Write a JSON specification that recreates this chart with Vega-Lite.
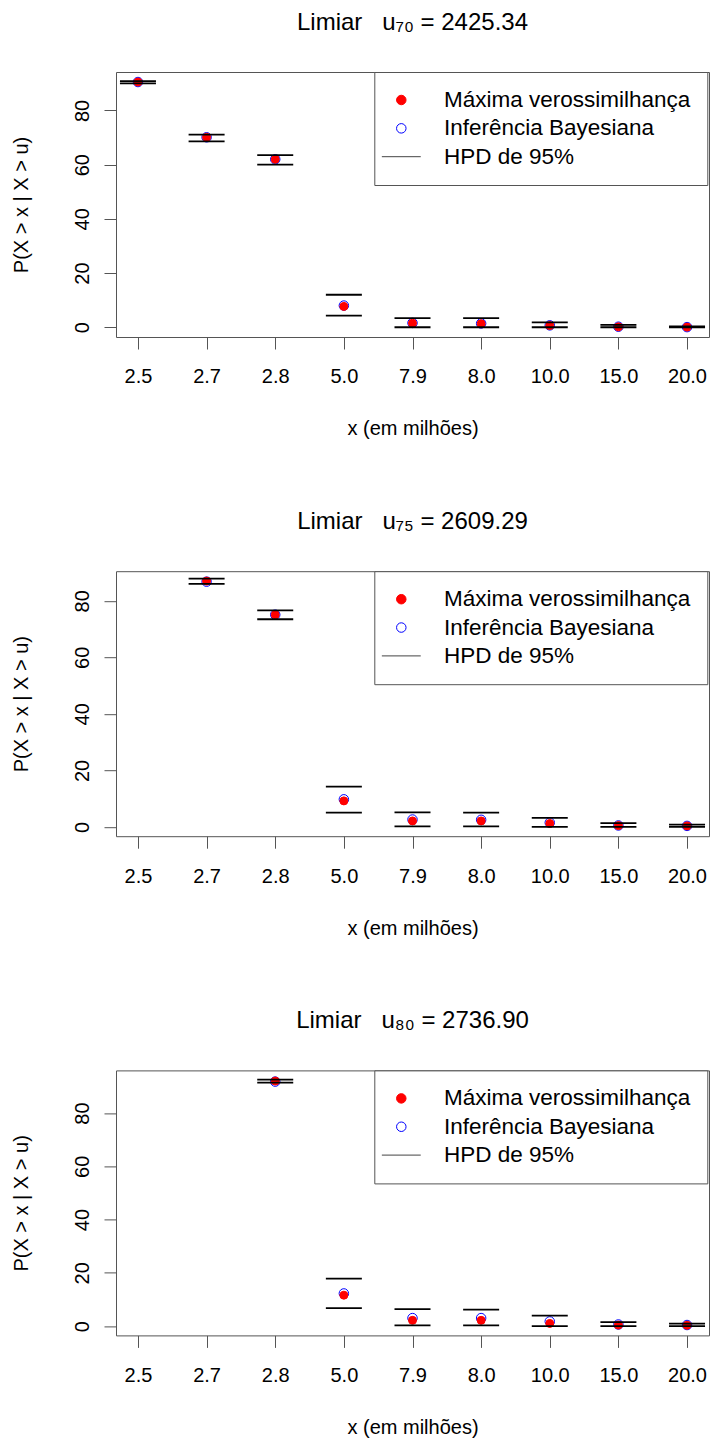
{
  "$schema": "https://vega.github.io/schema/vega-lite/v6.json",
  "background": "white",
  "padding": {"left": 10, "top": 10, "right": 0, "bottom": 0},
  "bounds": "flush",
  "spacing": 234.2,
  "config": {
    "font": "Liberation Sans",
    "view": {"stroke": "#555", "strokeWidth": 1},
    "axis": {
      "labelFont": "Liberation Sans", "labelFontSize": 20, "labelColor": "black",
      "titleFont": "Liberation Sans", "titleFontSize": 20, "titleFontWeight": "normal", "titleColor": "black",
      "tickColor": "#555", "tickSize": 12, "tickWidth": 1, "domain": false, "grid": false
    },
    "title": {"font": "Liberation Sans", "fontSize": 24, "fontWeight": "normal", "color": "black", "baseline": "alphabetic", "offset": 37, "anchor": "middle"},
    "legend": {"labelFont": "Liberation Sans"}
  },
  "datasets": {
    "d": [
      {"p": 1, "x": "2.5", "s": "Inferência Bayesiana", "v": 90.5},
      {"p": 1, "x": "2.7", "s": "Inferência Bayesiana", "v": 70.1},
      {"p": 1, "x": "2.8", "s": "Inferência Bayesiana", "v": 62.0},
      {"p": 1, "x": "5.0", "s": "Inferência Bayesiana", "v": 8.0},
      {"p": 1, "x": "7.9", "s": "Inferência Bayesiana", "v": 1.6},
      {"p": 1, "x": "8.0", "s": "Inferência Bayesiana", "v": 1.4},
      {"p": 1, "x": "10.0", "s": "Inferência Bayesiana", "v": 0.7},
      {"p": 1, "x": "15.0", "s": "Inferência Bayesiana", "v": 0.2},
      {"p": 1, "x": "20.0", "s": "Inferência Bayesiana", "v": 0.05},
      {"p": 1, "x": "2.5", "s": "Máxima verossimilhança", "v": 90.5},
      {"p": 1, "x": "2.7", "s": "Máxima verossimilhança", "v": 70.1},
      {"p": 1, "x": "2.8", "s": "Máxima verossimilhança", "v": 62.0},
      {"p": 1, "x": "5.0", "s": "Máxima verossimilhança", "v": 7.7},
      {"p": 1, "x": "7.9", "s": "Máxima verossimilhança", "v": 1.5},
      {"p": 1, "x": "8.0", "s": "Máxima verossimilhança", "v": 1.3},
      {"p": 1, "x": "10.0", "s": "Máxima verossimilhança", "v": 0.6},
      {"p": 1, "x": "15.0", "s": "Máxima verossimilhança", "v": 0.15},
      {"p": 1, "x": "20.0", "s": "Máxima verossimilhança", "v": 0.05},
      {"p": 1, "x": "2.5", "s": "HPD de 95%", "v": 90.0},
      {"p": 1, "x": "2.5", "s": "HPD de 95%", "v": 90.8},
      {"p": 1, "x": "2.7", "s": "HPD de 95%", "v": 68.6},
      {"p": 1, "x": "2.7", "s": "HPD de 95%", "v": 71.1},
      {"p": 1, "x": "2.8", "s": "HPD de 95%", "v": 60.0},
      {"p": 1, "x": "2.8", "s": "HPD de 95%", "v": 63.5},
      {"p": 1, "x": "5.0", "s": "HPD de 95%", "v": 4.3},
      {"p": 1, "x": "5.0", "s": "HPD de 95%", "v": 12.0},
      {"p": 1, "x": "7.9", "s": "HPD de 95%", "v": 0.0},
      {"p": 1, "x": "7.9", "s": "HPD de 95%", "v": 3.4},
      {"p": 1, "x": "8.0", "s": "HPD de 95%", "v": 0.0},
      {"p": 1, "x": "8.0", "s": "HPD de 95%", "v": 3.4},
      {"p": 1, "x": "10.0", "s": "HPD de 95%", "v": 0.0},
      {"p": 1, "x": "10.0", "s": "HPD de 95%", "v": 1.8},
      {"p": 1, "x": "15.0", "s": "HPD de 95%", "v": 0.0},
      {"p": 1, "x": "15.0", "s": "HPD de 95%", "v": 0.85},
      {"p": 1, "x": "20.0", "s": "HPD de 95%", "v": 0.0},
      {"p": 1, "x": "20.0", "s": "HPD de 95%", "v": 0.3},

      {"p": 2, "x": "2.7", "s": "Inferência Bayesiana", "v": 86.8},
      {"p": 2, "x": "2.8", "s": "Inferência Bayesiana", "v": 75.1},
      {"p": 2, "x": "5.0", "s": "Inferência Bayesiana", "v": 9.75},
      {"p": 2, "x": "7.9", "s": "Inferência Bayesiana", "v": 2.6},
      {"p": 2, "x": "8.0", "s": "Inferência Bayesiana", "v": 2.5},
      {"p": 2, "x": "10.0", "s": "Inferência Bayesiana", "v": 1.5},
      {"p": 2, "x": "15.0", "s": "Inferência Bayesiana", "v": 0.5},
      {"p": 2, "x": "20.0", "s": "Inferência Bayesiana", "v": 0.35},
      {"p": 2, "x": "2.7", "s": "Máxima verossimilhança", "v": 87.0},
      {"p": 2, "x": "2.8", "s": "Máxima verossimilhança", "v": 75.1},
      {"p": 2, "x": "5.0", "s": "Máxima verossimilhança", "v": 9.2},
      {"p": 2, "x": "7.9", "s": "Máxima verossimilhança", "v": 2.1},
      {"p": 2, "x": "8.0", "s": "Máxima verossimilhança", "v": 2.1},
      {"p": 2, "x": "10.0", "s": "Máxima verossimilhança", "v": 1.2},
      {"p": 2, "x": "15.0", "s": "Máxima verossimilhança", "v": 0.45},
      {"p": 2, "x": "20.0", "s": "Máxima verossimilhança", "v": 0.35},
      {"p": 2, "x": "2.7", "s": "HPD de 95%", "v": 86.0},
      {"p": 2, "x": "2.7", "s": "HPD de 95%", "v": 87.9},
      {"p": 2, "x": "2.8", "s": "HPD de 95%", "v": 73.5},
      {"p": 2, "x": "2.8", "s": "HPD de 95%", "v": 76.6},
      {"p": 2, "x": "5.0", "s": "HPD de 95%", "v": 5.05},
      {"p": 2, "x": "5.0", "s": "HPD de 95%", "v": 14.25},
      {"p": 2, "x": "7.9", "s": "HPD de 95%", "v": 0.2},
      {"p": 2, "x": "7.9", "s": "HPD de 95%", "v": 5.15},
      {"p": 2, "x": "8.0", "s": "HPD de 95%", "v": 0.2},
      {"p": 2, "x": "8.0", "s": "HPD de 95%", "v": 5.05},
      {"p": 2, "x": "10.0", "s": "HPD de 95%", "v": 0.0},
      {"p": 2, "x": "10.0", "s": "HPD de 95%", "v": 3.2},
      {"p": 2, "x": "15.0", "s": "HPD de 95%", "v": 0.0},
      {"p": 2, "x": "15.0", "s": "HPD de 95%", "v": 1.3},
      {"p": 2, "x": "20.0", "s": "HPD de 95%", "v": 0.0},
      {"p": 2, "x": "20.0", "s": "HPD de 95%", "v": 0.8},

      {"p": 3, "x": "2.8", "s": "Inferência Bayesiana", "v": 91.8},
      {"p": 3, "x": "5.0", "s": "Inferência Bayesiana", "v": 12.25},
      {"p": 3, "x": "7.9", "s": "Inferência Bayesiana", "v": 3.0},
      {"p": 3, "x": "8.0", "s": "Inferência Bayesiana", "v": 3.0},
      {"p": 3, "x": "10.0", "s": "Inferência Bayesiana", "v": 1.75},
      {"p": 3, "x": "15.0", "s": "Inferência Bayesiana", "v": 0.6},
      {"p": 3, "x": "20.0", "s": "Inferência Bayesiana", "v": 0.4},
      {"p": 3, "x": "2.8", "s": "Máxima verossimilhança", "v": 92.0},
      {"p": 3, "x": "5.0", "s": "Máxima verossimilhança", "v": 11.6},
      {"p": 3, "x": "7.9", "s": "Máxima verossimilhança", "v": 2.15},
      {"p": 3, "x": "8.0", "s": "Máxima verossimilhança", "v": 2.15},
      {"p": 3, "x": "10.0", "s": "Máxima verossimilhança", "v": 1.0},
      {"p": 3, "x": "15.0", "s": "Máxima verossimilhança", "v": 0.37},
      {"p": 3, "x": "20.0", "s": "Máxima verossimilhança", "v": 0.3},
      {"p": 3, "x": "2.8", "s": "HPD de 95%", "v": 91.4},
      {"p": 3, "x": "2.8", "s": "HPD de 95%", "v": 92.5},
      {"p": 3, "x": "5.0", "s": "HPD de 95%", "v": 6.75},
      {"p": 3, "x": "5.0", "s": "HPD de 95%", "v": 17.8},
      {"p": 3, "x": "7.9", "s": "HPD de 95%", "v": 0.25},
      {"p": 3, "x": "7.9", "s": "HPD de 95%", "v": 6.4},
      {"p": 3, "x": "8.0", "s": "HPD de 95%", "v": 0.25},
      {"p": 3, "x": "8.0", "s": "HPD de 95%", "v": 6.15},
      {"p": 3, "x": "10.0", "s": "HPD de 95%", "v": 0.0},
      {"p": 3, "x": "10.0", "s": "HPD de 95%", "v": 3.9},
      {"p": 3, "x": "15.0", "s": "HPD de 95%", "v": 0.0},
      {"p": 3, "x": "15.0", "s": "HPD de 95%", "v": 1.5},
      {"p": 3, "x": "20.0", "s": "HPD de 95%", "v": 0.0},
      {"p": 3, "x": "20.0", "s": "HPD de 95%", "v": 0.9}
    ]
  },
  "resolve": {
    "scale": {"y": "independent", "fill": "independent", "stroke": "independent", "shape": "independent"},
    "legend": {"fill": "independent", "stroke": "independent", "shape": "independent"}
  },
  "vconcat": [
    {
      "title": {"text": "Limiar\u00a0\u00a0\u00a0u₇₀ = 2425.34"},
      "width": 593, "height": 265,
      "data": {"name": "d"},
      "transform": [{"filter": "datum.p == 1"}],
      "encoding": {
        "x": {"field": "x", "type": "ordinal", "scale": {"type": "point", "domain": ["2.5","2.7","2.8","5.0","7.9","8.0","10.0","15.0","20.0"], "padding": 0.32},
              "axis": {"title": "x (em milhões)", "labelAngle": 0, "labelPadding": 17.8, "titlePadding": 32}},
        "y": {"field": "v", "type": "quantitative", "scale": {"domain": [-3.6, 94.2], "nice": false, "zero": false},
              "axis": {"title": "P(X > x | X > u)", "values": [0,20,40,60,80], "labelAngle": -90, "labelAlign": "center", "labelBaseline": "alphabetic", "labelPadding": 16, "titlePadding": 45, "titleBaseline": "alphabetic"}}
      },
      "layer": [
        {"transform": [{"filter": "datum.s == 'Inferência Bayesiana'"}],
         "mark": {"type": "point", "size": 90, "strokeWidth": 1, "opacity": 1},
         "encoding": {
           "fill": {"field": "s", "type": "nominal", "scale": {"domain": ["Máxima verossimilhança","Inferência Bayesiana","HPD de 95%"], "range": ["red","transparent","transparent"]},
                    "legend": {"title": null, "orient": "none", "legendX": 258.3, "legendY": 0, "direction": "vertical", "padding": 16.75, "strokeColor": "#555", "fillColor": "white", "labelFontSize": 22.5, "labelColor": "black", "labelOffset": 31.45, "symbolOffset": -1, "rowPadding": 5.35, "symbolSize": 90, "symbolStrokeWidth": 1, "labelLimit": 500}},
           "stroke": {"field": "s", "type": "nominal", "scale": {"domain": ["Máxima verossimilhança","Inferência Bayesiana","HPD de 95%"], "range": ["red","blue","#444"]},
                    "legend": {"title": null, "orient": "none", "legendX": 258.3, "legendY": 0, "direction": "vertical", "padding": 16.75, "strokeColor": "#555", "fillColor": "white", "labelFontSize": 22.5, "labelColor": "black", "labelOffset": 31.45, "symbolOffset": -1, "rowPadding": 5.35, "symbolSize": 90, "symbolStrokeWidth": 1, "labelLimit": 500}},
           "shape": {"field": "s", "type": "nominal", "scale": {"domain": ["Máxima verossimilhança","Inferência Bayesiana","HPD de 95%"], "range": ["circle","circle","M-4.1,0H4.1"]},
                    "legend": {"title": null, "orient": "none", "legendX": 258.3, "legendY": 0, "direction": "vertical", "padding": 16.75, "strokeColor": "#555", "fillColor": "white", "labelFontSize": 22.5, "labelColor": "black", "labelOffset": 31.45, "symbolOffset": -1, "rowPadding": 5.35, "symbolSize": 90, "symbolStrokeWidth": 1, "labelLimit": 500}}
         }},
        {"transform": [{"filter": "datum.s == 'Máxima verossimilhança'"}],
         "mark": {"type": "point", "size": 64, "strokeWidth": 1, "opacity": 1},
         "encoding": {
           "fill": {"field": "s", "type": "nominal"},
           "stroke": {"field": "s", "type": "nominal"},
           "shape": {"field": "s", "type": "nominal"}
         }},
        {"transform": [{"filter": "datum.s == 'HPD de 95%'"}],
         "mark": {"type": "tick", "orient": "horizontal", "size": 36, "thickness": 1.8, "color": "black", "opacity": 1},
         "encoding": {}}
      ]
    },
    {
      "title": {"text": "Limiar\u00a0\u00a0\u00a0u₇₅ = 2609.29"},
      "width": 593, "height": 265,
      "data": {"name": "d"},
      "transform": [{"filter": "datum.p == 2"}],
      "encoding": {
        "x": {"field": "x", "type": "ordinal", "scale": {"type": "point", "domain": ["2.5","2.7","2.8","5.0","7.9","8.0","10.0","15.0","20.0"], "padding": 0.32},
              "axis": {"title": "x (em milhões)", "labelAngle": 0, "labelPadding": 17.8, "titlePadding": 32}},
        "y": {"field": "v", "type": "quantitative", "scale": {"domain": [-3.3, 90.5], "nice": false, "zero": false},
              "axis": {"title": "P(X > x | X > u)", "values": [0,20,40,60,80], "labelAngle": -90, "labelAlign": "center", "labelBaseline": "alphabetic", "labelPadding": 16, "titlePadding": 45, "titleBaseline": "alphabetic"}}
      },
      "layer": [
        {"transform": [{"filter": "datum.s == 'Inferência Bayesiana'"}],
         "mark": {"type": "point", "size": 90, "strokeWidth": 1, "opacity": 1},
         "encoding": {
           "fill": {"field": "s", "type": "nominal", "scale": {"domain": ["Máxima verossimilhança","Inferência Bayesiana","HPD de 95%"], "range": ["red","transparent","transparent"]},
                    "legend": {"title": null, "orient": "none", "legendX": 258.3, "legendY": 0, "direction": "vertical", "padding": 16.75, "strokeColor": "#555", "fillColor": "white", "labelFontSize": 22.5, "labelColor": "black", "labelOffset": 31.45, "symbolOffset": -1, "rowPadding": 5.35, "symbolSize": 90, "symbolStrokeWidth": 1, "labelLimit": 500}},
           "stroke": {"field": "s", "type": "nominal", "scale": {"domain": ["Máxima verossimilhança","Inferência Bayesiana","HPD de 95%"], "range": ["red","blue","#444"]},
                    "legend": {"title": null, "orient": "none", "legendX": 258.3, "legendY": 0, "direction": "vertical", "padding": 16.75, "strokeColor": "#555", "fillColor": "white", "labelFontSize": 22.5, "labelColor": "black", "labelOffset": 31.45, "symbolOffset": -1, "rowPadding": 5.35, "symbolSize": 90, "symbolStrokeWidth": 1, "labelLimit": 500}},
           "shape": {"field": "s", "type": "nominal", "scale": {"domain": ["Máxima verossimilhança","Inferência Bayesiana","HPD de 95%"], "range": ["circle","circle","M-4.1,0H4.1"]},
                    "legend": {"title": null, "orient": "none", "legendX": 258.3, "legendY": 0, "direction": "vertical", "padding": 16.75, "strokeColor": "#555", "fillColor": "white", "labelFontSize": 22.5, "labelColor": "black", "labelOffset": 31.45, "symbolOffset": -1, "rowPadding": 5.35, "symbolSize": 90, "symbolStrokeWidth": 1, "labelLimit": 500}}
         }},
        {"transform": [{"filter": "datum.s == 'Máxima verossimilhança'"}],
         "mark": {"type": "point", "size": 64, "strokeWidth": 1, "opacity": 1},
         "encoding": {
           "fill": {"field": "s", "type": "nominal"},
           "stroke": {"field": "s", "type": "nominal"},
           "shape": {"field": "s", "type": "nominal"}
         }},
        {"transform": [{"filter": "datum.s == 'HPD de 95%'"}],
         "mark": {"type": "tick", "orient": "horizontal", "size": 36, "thickness": 1.8, "color": "black", "opacity": 1},
         "encoding": {}}
      ]
    },
    {
      "title": {"text": "Limiar\u00a0\u00a0\u00a0u₈₀ = 2736.90"},
      "width": 593, "height": 265,
      "data": {"name": "d"},
      "transform": [{"filter": "datum.p == 3"}],
      "encoding": {
        "x": {"field": "x", "type": "ordinal", "scale": {"type": "point", "domain": ["2.5","2.7","2.8","5.0","7.9","8.0","10.0","15.0","20.0"], "padding": 0.32},
              "axis": {"title": "x (em milhões)", "labelAngle": 0, "labelPadding": 17.8, "titlePadding": 32}},
        "y": {"field": "v", "type": "quantitative", "scale": {"domain": [-3.5, 96.0], "nice": false, "zero": false},
              "axis": {"title": "P(X > x | X > u)", "values": [0,20,40,60,80], "labelAngle": -90, "labelAlign": "center", "labelBaseline": "alphabetic", "labelPadding": 16, "titlePadding": 45, "titleBaseline": "alphabetic"}}
      },
      "layer": [
        {"transform": [{"filter": "datum.s == 'Inferência Bayesiana'"}],
         "mark": {"type": "point", "size": 90, "strokeWidth": 1, "opacity": 1},
         "encoding": {
           "fill": {"field": "s", "type": "nominal", "scale": {"domain": ["Máxima verossimilhança","Inferência Bayesiana","HPD de 95%"], "range": ["red","transparent","transparent"]},
                    "legend": {"title": null, "orient": "none", "legendX": 258.3, "legendY": 0, "direction": "vertical", "padding": 16.75, "strokeColor": "#555", "fillColor": "white", "labelFontSize": 22.5, "labelColor": "black", "labelOffset": 31.45, "symbolOffset": -1, "rowPadding": 5.35, "symbolSize": 90, "symbolStrokeWidth": 1, "labelLimit": 500}},
           "stroke": {"field": "s", "type": "nominal", "scale": {"domain": ["Máxima verossimilhança","Inferência Bayesiana","HPD de 95%"], "range": ["red","blue","#444"]},
                    "legend": {"title": null, "orient": "none", "legendX": 258.3, "legendY": 0, "direction": "vertical", "padding": 16.75, "strokeColor": "#555", "fillColor": "white", "labelFontSize": 22.5, "labelColor": "black", "labelOffset": 31.45, "symbolOffset": -1, "rowPadding": 5.35, "symbolSize": 90, "symbolStrokeWidth": 1, "labelLimit": 500}},
           "shape": {"field": "s", "type": "nominal", "scale": {"domain": ["Máxima verossimilhança","Inferência Bayesiana","HPD de 95%"], "range": ["circle","circle","M-4.1,0H4.1"]},
                    "legend": {"title": null, "orient": "none", "legendX": 258.3, "legendY": 0, "direction": "vertical", "padding": 16.75, "strokeColor": "#555", "fillColor": "white", "labelFontSize": 22.5, "labelColor": "black", "labelOffset": 31.45, "symbolOffset": -1, "rowPadding": 5.35, "symbolSize": 90, "symbolStrokeWidth": 1, "labelLimit": 500}}
         }},
        {"transform": [{"filter": "datum.s == 'Máxima verossimilhança'"}],
         "mark": {"type": "point", "size": 64, "strokeWidth": 1, "opacity": 1},
         "encoding": {
           "fill": {"field": "s", "type": "nominal"},
           "stroke": {"field": "s", "type": "nominal"},
           "shape": {"field": "s", "type": "nominal"}
         }},
        {"transform": [{"filter": "datum.s == 'HPD de 95%'"}],
         "mark": {"type": "tick", "orient": "horizontal", "size": 36, "thickness": 1.8, "color": "black", "opacity": 1},
         "encoding": {}}
      ]
    }
  ]
}
